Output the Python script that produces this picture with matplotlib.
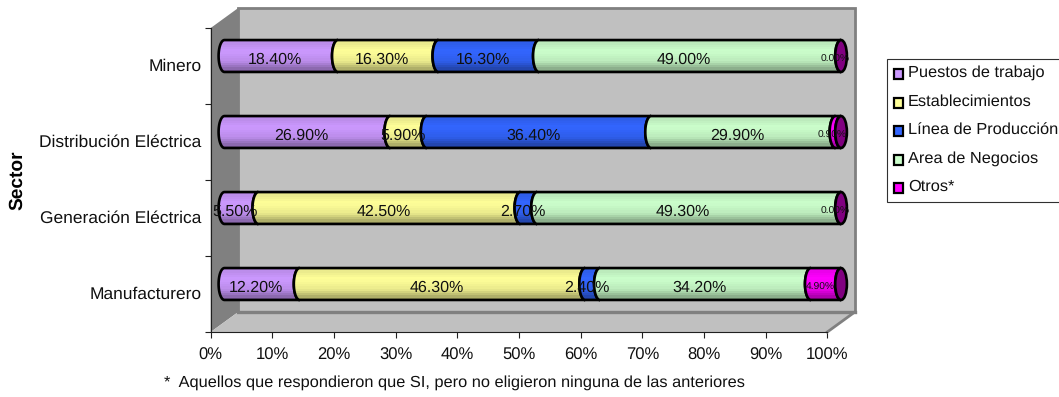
import numpy as np
import matplotlib
matplotlib.use("Agg")
import matplotlib.pyplot as plt
from matplotlib.colors import LinearSegmentedColormap
from matplotlib.patches import Ellipse, PathPatch, Polygon, Rectangle
from matplotlib.path import Path

plt.rcParams["font.family"] = ["Liberation Sans", "DejaVu Sans"]
plt.rcParams["text.hinting"] = "no_hinting"

W, H = 1059, 397

sectors = ["Manufacturero", "Generación Eléctrica", "Distribución Eléctrica", "Minero"]
series_names = ["Puestos de trabajo", "Establecimientos", "Línea de Producción",
                "Area de Negocios", "Otros*"]
puestos = [12.2, 5.5, 26.9, 18.4]
establecimientos = [46.3, 42.5, 5.9, 16.3]
linea = [2.4, 2.7, 36.4, 16.3]
area = [34.2, 49.3, 29.9, 49.0]
otros = [4.9, 0.0, 0.9, 0.0]
xticks = list(range(0, 101, 10))
colors = ["#CC99FF", "#FFFF99", "#3366FF", "#CCFFCC", "#FF00FF"]

# 3D box depth, cylinder size (percent units / category units)
DX, DY = 4.46, 0.263
CAP_W, CAP_H = 0.95, 0.21
GREY, DARK = "#C0C0C0", "#808080"
EDGE_LW = 1.9


def shaded(color):
    # banded vertical shading of a cylinder: top row is index 0
    rgb = np.array(matplotlib.colors.to_rgb(color))
    cmap = LinearSegmentedColormap.from_list(
        "cyl", [rgb * 0.9, rgb, rgb * 0.92, rgb * 0.62], N=14)
    return cmap(np.linspace(0, 1, 14))[:, None, :3]


def segment_path(x0, x1, yc):
    # body of a cylinder slice; both ends bulge to the left
    t = np.linspace(np.pi / 2, 3 * np.pi / 2, 30)
    left = np.c_[x0 + CAP_W * np.cos(t), yc + CAP_H * np.sin(t)]
    right = np.c_[x1 + CAP_W * np.cos(t[::-1]), yc + CAP_H * np.sin(t[::-1])]
    return Path(np.vstack([left, right, left[:1]]), closed=True)


fig = plt.figure(figsize=(W / 100, H / 100), dpi=100)
ax = fig.add_axes([210.7 / W, 1 - 332 / H, 616.6 / W, 304 / H])
ax.set_xlim(0, 100)
ax.set_ylim(0, 4)

# walls and floor
ax.add_patch(Polygon([(DX, DY), (100 + DX, DY), (100 + DX, 4 + DY), (DX, 4 + DY)],
                     fc=GREY, ec=DARK, lw=2, clip_on=False, zorder=1))
ax.add_patch(Polygon([(0, 0), (DX, DY), (DX, 4 + DY), (0, 4)],
                     fc=DARK, ec="none", clip_on=False, zorder=1.5))
ax.add_patch(Polygon([(0, 0), (DX, DY), (100 + DX, DY), (100, 0)],
                     fc=GREY, ec="none", clip_on=False, zorder=1.5))
ax.plot([100, 100 + DX], [0, DY], color=DARK, lw=2, clip_on=False, zorder=1.6)
ax.plot([DX, 100 + DX], [DY, DY], color=DARK, lw=2.4, clip_on=False, zorder=1.6)

table = [puestos, establecimientos, linea, area, otros]
for row in range(len(sectors)):
    yc = row + 0.5 + DY / 2
    left = DX / 2
    for s, vals in enumerate(table):
        v = vals[row]
        if v > 0:
            p = segment_path(left, left + v, yc)
            img = ax.imshow(shaded(colors[s]), aspect="auto", zorder=3 + s * 0.1,
                            extent=(left - CAP_W, left + v + CAP_W, yc - CAP_H, yc + CAP_H),
                            interpolation="nearest")
            img.set_clip_box(fig.bbox)
            img.set_clip_path(p, ax.transData)
            ax.add_patch(PathPatch(p, fc="none", ec="black", lw=EDGE_LW, clip_on=False,
                                   zorder=3.05 + s * 0.1))
        ax.text(left + v / 2 - CAP_W, yc - 0.045, f"{v:.2f}%", ha="center", va="center",
                fontsize=11.5 if s < 4 else 7.4, zorder=6, clip_on=False, color="#101010")
        left += v
    # dark end cap of the whole cylinder
    ax.add_patch(Ellipse((left, yc), 2 * CAP_W, 2 * CAP_H, fc="#800080", ec="black",
                         lw=EDGE_LW, clip_on=False, zorder=4))

ax.set_xlim(0, 100)
ax.set_ylim(0, 4)
ax.set_zorder(2)
ax.patch.set_visible(False)
for side in ["top", "right"]:
    ax.spines[side].set_visible(False)
for side in ["left", "bottom"]:
    ax.spines[side].set_color("#202020")
    ax.spines[side].set_zorder(2)

ax.set_xticks(xticks)
ax.set_xticklabels([f"{t}%" for t in xticks], fontsize=12, color="#101010")
ax.tick_params(axis="x", length=4, width=0.8, color="#202020", pad=7)
ax.set_yticks(np.arange(len(sectors)) + 0.5)
ax.set_yticklabels(sectors, fontsize=12.5, color="#101010", va="center")
ax.set_yticks(np.arange(len(sectors) + 1), minor=True)
ax.tick_params(axis="y", which="major", length=0, pad=6.5)
ax.tick_params(axis="y", which="minor", length=4.5, width=0.8, color="#202020")

fig.text(17 / W, 1 - 180 / H, "Sector", rotation=90, fontsize=13.8, fontweight="bold",
         ha="center", va="center")
fig.text(454 / W, 1 - 383 / H,
         "*  Aquellos que respondieron que SI, pero no eligieron ninguna de las anteriores",
         fontsize=11.75, ha="center", va="center", color="#101010")

# legend box, running past the right edge
fig.patches.append(Rectangle((887 / W, 1 - 202 / H), 190 / W, 143 / H, fc="white",
                             ec="#303030", lw=0.8, transform=fig.transFigure))
legend_y = [73, 102, 130, 159, 187]
for name, color, y in zip(series_names, colors, legend_y):
    fig.patches.append(Rectangle((893.5 / W, 1 - (y + 5.5) / H), 9.5 / W, 10 / H, fc=color,
                                 ec="black", lw=1.6, transform=fig.transFigure))
    fig.text(908 / W, 1 - y / H, name, fontsize=11.8, ha="left", va="center", color="#101010")

fig.savefig("out.png", dpi=100)
